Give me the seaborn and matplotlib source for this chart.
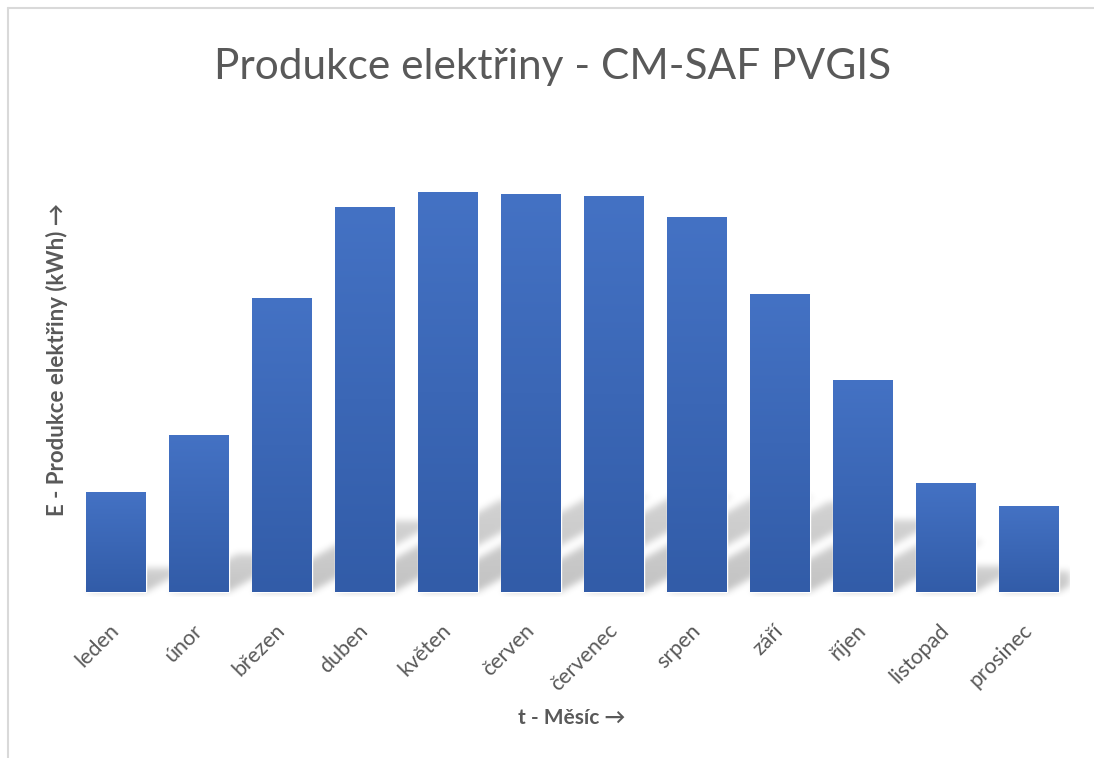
import numpy as np
import pandas as pd
import matplotlib
matplotlib.use("Agg")
import matplotlib.pyplot as plt
from matplotlib.lines import Line2D
import seaborn as sns

# Monthly electricity production (kWh)
months = ["leden", "únor", "březen", "duben", "květen", "červen",
          "červenec", "srpen", "září", "říjen", "listopad", "prosinec"]
production = [100, 157, 294, 385, 400, 398, 396, 375, 298, 212, 109, 86]

title = "Produkce elektřiny - CM-SAF PVGIS"
x_label = "t - Měsíc →"
y_label = "E - Produkce elektřiny (kWh) →"

BAR_TOP = np.array([68, 114, 196]) / 255
BAR_BOTTOM = np.array([50, 92, 168]) / 255
TEXT = "#595959"

sns.set_theme(style="white")
plt.rcParams["font.family"] = ["Lato", "DejaVu Sans"]

W, H = 1094, 758
fig = plt.figure(figsize=(W / 100, H / 100), dpi=100)
ax_left, ax_right, ax_top, base_y = 74.5, 1070.5, 120, 592
below = 5  # room under the baseline for the soft shadow edge
ax = fig.add_axes([ax_left / W, 1 - (base_y + below) / H,
                   (ax_right - ax_left) / W, (base_y + below - ax_top) / H])

df = pd.DataFrame({"month": months, "kwh": production})
bar_width = 0.72
sns.barplot(data=df, x="month", y="kwh", color="#4472C4", saturation=1,
            width=bar_width, ax=ax, zorder=3)

ymax = base_y - ax_top
xlim = (-0.5, len(months) - 0.5)
ylim = (-below, ymax)

# Soft perspective shadow cast behind the bars (sheared towards upper right)
px_w = int(ax_right - ax_left)
px_h = int(ymax + below)
unit = px_w / len(months)
rows = np.arange(px_h)[:, None] + 0.5 - below
cols = np.arange(px_w)[None, :] + 0.5
shadow = np.zeros((px_h, px_w))
scale_h, shear = 0.24, 1.8
for i, v in enumerate(production):
    x0 = (i + 0.5 - bar_width / 2) * unit
    x1 = (i + 0.5 + bar_width / 2) * unit
    top = v * scale_h
    shift = rows * shear
    inside = (rows >= 0) & (rows <= top) & (cols >= x0 + shift) & (cols <= x1 + shift)
    fade = 1 - 0.25 * np.clip(rows, 0, None) / max(top, 1)
    shadow = np.maximum(shadow, inside * fade)

def gauss_blur(a, sigma):
    r = int(3 * sigma)
    k = np.exp(-0.5 * (np.arange(-r, r + 1) / sigma) ** 2)
    k /= k.sum()
    a = np.apply_along_axis(lambda m: np.convolve(np.pad(m, r, mode="constant"), k, "valid"), 0, a)
    a = np.apply_along_axis(lambda m: np.convolve(np.pad(m, r, mode="constant"), k, "valid"), 1, a)
    return a

shadow = gauss_blur(shadow, 3.5)
rgba = np.zeros((px_h, px_w, 4))
rgba[..., 3] = np.clip(shadow, 0, 1) * 0.24
ax.imshow(rgba, extent=(xlim[0], xlim[1], ylim[0], ylim[1]), origin="lower",
          aspect="auto", zorder=1, interpolation="bilinear")

# Vertical gradient fill on each bar
grad = np.linspace(0, 1, 256)[:, None]
grad_rgb = BAR_BOTTOM[None, None, :] * (1 - grad[..., None]) + BAR_TOP[None, None, :] * grad[..., None]
for patch in ax.patches:
    x, y = patch.get_x(), patch.get_y()
    w, h = patch.get_width(), patch.get_height()
    im = ax.imshow(grad_rgb, extent=(x, x + w, y, y + h), origin="lower",
                   aspect="auto", zorder=4, interpolation="bilinear")
    im.set_clip_path(patch)
ax.set_xlim(*xlim)
ax.set_ylim(*ylim)

for s in ax.spines.values():
    s.set_visible(False)
ax.set_yticks([])
ax.tick_params(axis="x", length=0, pad=22, colors=TEXT, labelsize=15.5)
for lab in ax.get_xticklabels():
    lab.set_rotation(45)
    lab.set_ha("right")
    lab.set_va("center")
    lab.set_rotation_mode("anchor")
    lab.set_color(TEXT)

span = ymax + below
ax.set_xlabel(x_label, fontsize=15, fontweight="bold", color=TEXT, va="center")
ax.xaxis.set_label_coords((572 - ax_left) / (ax_right - ax_left),
                          -(718 - base_y - below) / span)
ax.set_ylabel(y_label, fontsize=16, fontweight="bold", color=TEXT,
              ha="center", va="center")
ax.yaxis.set_label_coords((57 - ax_left) / (ax_right - ax_left),
                          (base_y + below - 360) / span)

fig.text(553 / W, 1 - 79 / H, title, ha="center", va="baseline",
         fontsize=30.5, color=TEXT)

# Chart area frame edges
frame_c = "#d9d9d9"
fig.add_artist(Line2D([7.5 / W, 1], [1 - 7.5 / H] * 2, transform=fig.transFigure,
                      color=frame_c, lw=1.5))
fig.add_artist(Line2D([7.5 / W] * 2, [0, 1 - 7.5 / H], transform=fig.transFigure,
                      color=frame_c, lw=1.5))

fig.savefig("out.png", dpi=100, facecolor="white")
